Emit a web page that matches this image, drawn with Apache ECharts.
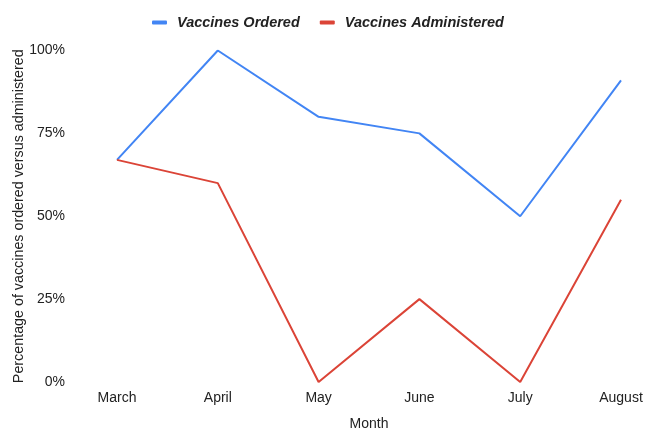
<!DOCTYPE html>
<html>
<head>
<meta charset="utf-8">
<script src="https://cdn.jsdelivr.net/npm/echarts@6/dist/echarts.min.js"></script>
<style>
  html, body { margin: 0; padding: 0; background: #fff; }
  #main { width: 647px; height: 428px; }
</style>
</head>
<body>
<div id="main"></div>
<script>
const months = ['March', 'April', 'May', 'June', 'July', 'August'];
const ordered = [67, 100, 80, 75, 50, 91];
const administered = [67, 60, 0, 25, 0, 55];
const yTicks = [0, 25, 50, 75, 100];

const myChart = echarts.init(document.getElementById('main'));
const option = {
  animation: false,
  textStyle: { fontFamily: 'Liberation Sans, Arial, sans-serif' },
  legend: {
    left: 147,
    top: 10,
    itemWidth: 15,
    itemHeight: 4,
    itemGap: 20,
    icon: 'roundRect',
    textStyle: {
      fontSize: 14.5,
      fontWeight: 'bold',
      fontStyle: 'italic',
      color: '#222',
      padding: [0, 0, 0, 5]
    },
    data: ['Vaccines Ordered', 'Vaccines Administered']
  },
  grid: {
    left: 117,
    right: 26,
    top: 50.5,
    bottom: 46,
    outerBoundsMode: 'none'
  },
  xAxis: {
    type: 'category',
    data: months,
    boundaryGap: false,
    name: 'Month',
    nameLocation: 'middle',
    nameGap: 35,
    nameMoveOverlap: false,
    nameTextStyle: { fontSize: 14, color: '#222' },
    axisLine: { show: false },
    axisTick: { show: false },
    axisLabel: { fontSize: 14, color: '#222', margin: 9 }
  },
  yAxis: {
    type: 'value',
    min: yTicks[0],
    max: yTicks[yTicks.length - 1],
    interval: 25,
    name: 'Percentage of vaccines ordered versus administered',
    nameLocation: 'middle',
    nameGap: 91,
    nameMoveOverlap: false,
    nameTextStyle: { fontSize: 14.3, color: '#222' },
    axisLine: { show: false },
    axisTick: { show: false },
    splitLine: { show: false },
    axisLabel: { fontSize: 14, color: '#222', margin: 52, formatter: '{value}%' }
  },
  series: [
    {
      name: 'Vaccines Ordered',
      type: 'line',
      data: ordered,
      showSymbol: false,
      symbol: 'none',
      lineStyle: { width: 2, color: '#4285F4' },
      itemStyle: { color: '#4285F4' }
    },
    {
      name: 'Vaccines Administered',
      type: 'line',
      data: administered,
      showSymbol: false,
      symbol: 'none',
      lineStyle: { width: 2, color: '#DB4437' },
      itemStyle: { color: '#DB4437' }
    }
  ]
};
myChart.setOption(option);
</script>
</body>
</html>
